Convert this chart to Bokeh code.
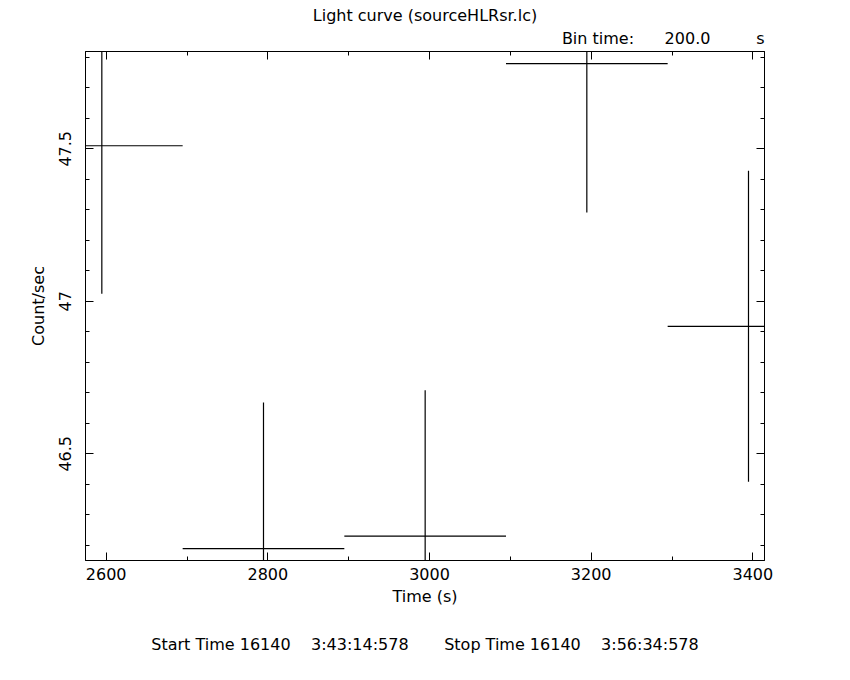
from bokeh.plotting import figure
from bokeh.models import (Range1d, LinearAxis, FixedTicker, CustomJSTickFormatter,
                          Title, ColumnDataSource)
from bokeh.embed import file_html
from bokeh.resources import INLINE

# ---- data ----
bin_time = 200.0
time = [2594.6, 2794.6, 2994.6, 3194.6, 3394.6]
rate = [47.510, 46.189, 46.230, 47.779, 46.918]
error = [0.485, 0.479, 0.478, 0.488, 0.510]

x_ticks = [2600, 2800, 3000, 3200, 3400]
x_minor = [2500, 2700, 2900, 3100, 3300]
y_ticks = [46.5, 47.0, 47.5]
y_minor = [46.1, 46.2, 46.3, 46.4, 46.6, 46.7, 46.8, 46.9,
           47.1, 47.2, 47.3, 47.4, 47.6, 47.7, 47.8]

NB = "\u00a0"
title_text = "Light curve (sourceHLRsr.lc)"
bin_text = "Bin time:" + NB * 6 + "200.0" + NB * 9 + "s"
times_text = ("Start Time 16140" + NB * 4 + "3:43:14:578" + NB * 7 +
              "Stop Time 16140" + NB * 4 + "3:56:34:578")

FONT = "DejaVu Sans"

src = ColumnDataSource(dict(
    t=time,
    r=rate,
    left=[t - bin_time / 2 for t in time],
    right=[t + bin_time / 2 for t in time],
    lo=[r - e for r, e in zip(rate, error)],
    hi=[r + e for r, e in zip(rate, error)],
))

p = figure(width=850, height=680,
           x_range=Range1d(2574.4, 3414.4), y_range=Range1d(46.150, 47.819),
           output_backend="svg", toolbar_location=None,
           min_border_left=85, min_border_right=86,
           min_border_top=51, min_border_bottom=120,
           x_axis_label="Time (s)", y_axis_label="Count/sec")
p.title.visible = False
p.xgrid.visible = False
p.ygrid.visible = False
p.outline_line_color = "black"
p.outline_line_width = 1
p.background_fill_color = "white"
p.border_fill_color = "white"

bottom_axis = p.xaxis[0]
left_axis = p.yaxis[0]

bottom_axis.ticker = FixedTicker(ticks=x_ticks, minor_ticks=x_minor)
left_axis.ticker = FixedTicker(ticks=y_ticks, minor_ticks=y_minor)
left_axis.formatter = CustomJSTickFormatter(
    code="return tick.toFixed(1).replace(/\\.0$/, '');")
left_axis.major_label_orientation = "vertical"

top_axis = LinearAxis(ticker=FixedTicker(ticks=x_ticks, minor_ticks=x_minor),
                      major_label_text_color=None, major_label_standoff=0)
right_axis = LinearAxis(ticker=FixedTicker(ticks=y_ticks, minor_ticks=y_minor),
                        major_label_text_color=None, major_label_standoff=0)
p.add_layout(top_axis, "above")
p.add_layout(right_axis, "right")

for ax in [bottom_axis, left_axis, top_axis, right_axis]:
    ax.major_tick_in = 8
    ax.major_tick_out = 0
    ax.minor_tick_in = 4
    ax.minor_tick_out = 0
    ax.axis_line_color = "black"
    ax.major_tick_line_color = "black"
    ax.minor_tick_line_color = "black"

for ax in [bottom_axis, left_axis]:
    ax.major_label_text_color = "black"
    ax.major_label_text_font = FONT
    ax.major_label_text_font_size = "16px"
    ax.axis_label_text_font = FONT
    ax.axis_label_text_font_size = "16px"
    ax.axis_label_text_font_style = "normal"
    ax.axis_label_text_color = "black"

bottom_axis.major_label_standoff = 7
left_axis.major_label_standoff = 14
bottom_axis.axis_label_standoff = 4
left_axis.axis_label_standoff = 9

p.segment(x0="left", y0="r", x1="right", y1="r", source=src,
          line_color="black", line_width=1.2)
p.segment(x0="t", y0="lo", x1="t", y1="hi", source=src,
          line_color="black", line_width=1.2)

# texts outside the frame: stacked titles (first added sits nearest the frame)
p.add_layout(Title(text=bin_text, align="right", vertical_align="middle",
                   standoff=6, text_font=FONT, text_font_size="16px",
                   text_font_style="normal", text_color="black"), "above")
p.add_layout(Title(text=title_text, align="center", vertical_align="bottom",
                   standoff=0, text_font=FONT, text_font_size="16px",
                   text_font_style="normal", text_color="black"), "above")
p.add_layout(Title(text=times_text, align="center", vertical_align="middle",
                   standoff=51, text_font=FONT, text_font_size="16px",
                   text_font_style="normal", text_color="black"), "below")

open("out.html", "w").write(file_html(p, INLINE))
